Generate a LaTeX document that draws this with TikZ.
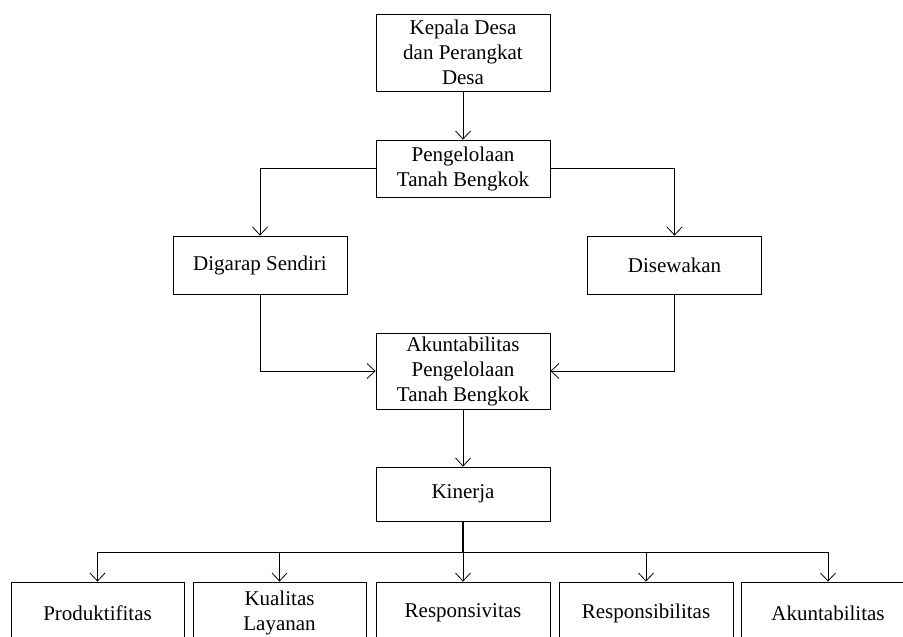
\documentclass[tikz,border=0pt]{standalone}
\usepackage{fontspec}
\setmainfont{Liberation Serif}
\usetikzlibrary{arrows.meta}

\begin{document}
\begin{tikzpicture}[x=1pt,y=1pt,yscale=-1,xscale=1,
  box/.style={draw, line width=0.8pt, minimum width=174pt, inner sep=0pt, align=center, font=\fontsize{21}{25}\selectfont},
  arr/.style={line width=0.8pt, -{Straight Barb[length=8pt,width=15pt]}}]
\useasboundingbox (0,0) rectangle (903,637);

%Shape: Rectangle [kepala]
\node[box, minimum height=77pt] (kepala) at (463,52.5) {Kepala Desa\\dan Perangkat\\Desa};
%Shape: Rectangle [pengelolaan]
\node[box, minimum height=57pt] (pengelolaan) at (463,168.5) {Pengelolaan\\Tanah Bengkok};
%Shape: Rectangle [digarap]
\node[box, minimum height=58pt] (digarap) at (260,265) {Digarap Sendiri};
%Shape: Rectangle [disewakan]
\node[box, minimum height=58pt] (disewakan) at (674.5,265) {Disewakan};
%Shape: Rectangle [akuntabilitas pengelolaan]
\node[box, minimum height=76pt] (akun) at (463,371) {Akuntabilitas\\Pengelolaan\\Tanah Bengkok};
%Shape: Rectangle [kinerja]
\node[box, minimum height=54pt] (kinerja) at (463,494) {Kinerja};

% bottom row
\node[box, minimum height=62pt, minimum width=173pt] (produktif) at (97.5,613) {Produktifitas};
\node[box, minimum height=62pt, minimum width=173pt] (kualitas) at (279.5,613) {Kualitas\\Layanan};
\node[box, minimum height=62pt] (responsiv) at (463,613) {Responsivitas};
\node[box, minimum height=62pt] (responsib) at (646,613) {Responsibilitas};
\node[box, minimum height=62pt] (akuntab) at (828,613) {Akuntabilitas};

% connectors
\draw[arr] (kepala) -- (pengelolaan);
\draw[arr] (pengelolaan.west) -| (digarap.north);
\draw[arr] (pengelolaan.east) -| (disewakan.north);
\draw[arr] (digarap.south) |- (akun.west);
\draw[arr] (disewakan.south) |- (akun.east);
\draw[arr] (akun) -- (kinerja);

\coordinate (bus) at (463,552);
\draw[line width=1.6pt] (kinerja.south) -- (bus);
\draw[arr] (bus) -| (produktif.north);
\draw[arr] (bus) -| (kualitas.north);
\draw[arr] (bus) -- (responsiv.north);
\draw[arr] (bus) -| (responsib.north);
\draw[arr] (bus) -| (akuntab.north);

\end{tikzpicture}
\end{document}
